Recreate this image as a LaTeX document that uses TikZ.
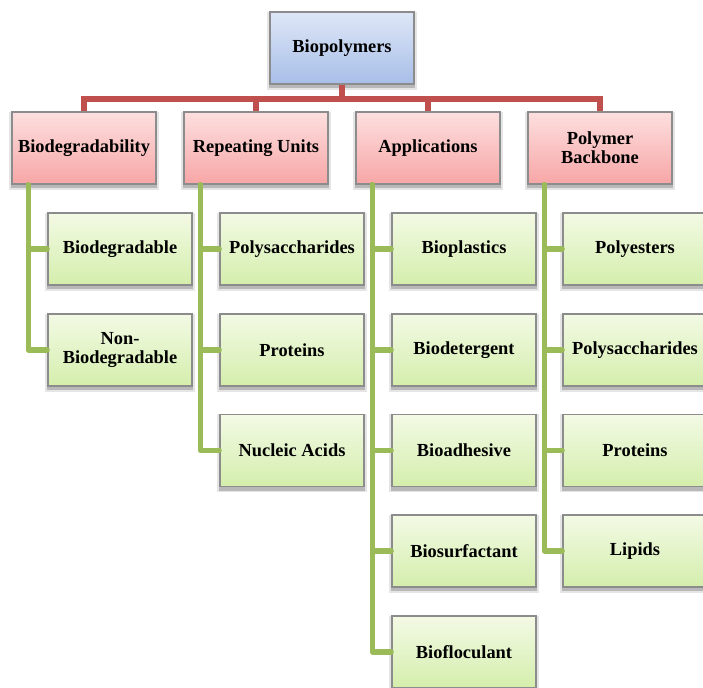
\documentclass[tikz,border=0pt]{standalone}
\usepackage{fontspec}
\setmainfont{Liberation Serif}

\definecolor{rootTop}{RGB}{222,231,247}
\definecolor{rootBot}{RGB}{168,190,232}
\definecolor{catTop}{RGB}{253,223,223}
\definecolor{catBot}{RGB}{247,166,166}
\definecolor{leafTop}{RGB}{243,250,229}
\definecolor{leafBot}{RGB}{212,238,172}
\definecolor{boxEdge}{RGB}{140,140,140}
\definecolor{redLine}{RGB}{192,80,77}
\definecolor{greenLine}{RGB}{155,187,89}

\tikzset{every picture/.style={line width=0.75pt}}
\tikzset{
  box/.style={draw=boxEdge, line width=1.1pt, minimum width=108pt, minimum height=54pt,
    inner sep=2pt, align=center, font=\fontsize{13.8}{14.5}\selectfont\bfseries,
    preaction={draw=black!10, fill=black!10, line width=4.5pt, transform canvas={yshift=-2pt}},
    preaction={draw=black!28, fill=black!28, line width=2pt, transform canvas={yshift=-2pt}}},
  rootbox/.style={box, top color=rootTop, bottom color=rootBot},
  catbox/.style={box, top color=catTop, bottom color=catBot},
  leafbox/.style={box, top color=leafTop, bottom color=leafBot},
  redlink/.style={draw=redLine, line width=3.8pt},
  greenlink/.style={draw=greenLine, line width=3.8pt, line join=round, line cap=round}
}

\begin{document}
\begin{tikzpicture}[x=0.75pt,y=0.75pt,yscale=-1,xscale=1]
\useasboundingbox (0,0) rectangle (703,688);
\clip (0,0) rectangle (703,688);

% Root
\node [rootbox] (root) at (342,48) {Biopolymers};
\coordinate (hub) at (342,99);

% Categories
\node [catbox] (degr) at (84,148) {Biodegradability};
\node [catbox] (unit) at (256,148) {Repeating Units};
\node [catbox] (appl) at (428,148) {Applications};
\node [catbox] (back) at (600,148) {Polymer\\Backbone};

% Biodegradability
\node [leafbox] (degrA) at (120,249) {Biodegradable};
\node [leafbox] (degrB) at (120,350) {Non-\\Biodegradable};

% Repeating Units
\node [leafbox] (unitA) at (292,249) {Polysaccharides};
\node [leafbox] (unitB) at (292,350) {Proteins};
\node [leafbox] (unitC) at (292,450.5) {Nucleic Acids};

% Applications
\node [leafbox] (applA) at (464,249) {Bioplastics};
\node [leafbox] (applB) at (464,350) {Biodetergent};
\node [leafbox] (applC) at (464,450.5) {Bioadhesive};
\node [leafbox] (applD) at (464,551) {Biosurfactant};
\node [leafbox] (applE) at (464,652) {Biofloculant};

% Polymer Backbone
\node [leafbox] (backA) at (635,249) {Polyesters};
\node [leafbox] (backB) at (635,350) {Polysaccharides};
\node [leafbox] (backC) at (635,450.5) {Proteins};
\node [leafbox] (backD) at (635,551) {Lipids};

%Straight Lines
\draw [redlink] (root.south) -- (hub);
\foreach \c in {degr,unit,appl,back}
  \draw [redlink] (hub) -| (\c.north);
\foreach \c in {degrA,degrB}
  \draw [greenlink] (degr.south west) ++(17,0) |- (\c.west);
\foreach \c in {unitA,unitB,unitC}
  \draw [greenlink] (unit.south west) ++(17,0) |- (\c.west);
\foreach \c in {applA,applB,applC,applD,applE}
  \draw [greenlink] (appl.south west) ++(17,0) |- (\c.west);
\foreach \c in {backA,backB,backC,backD}
  \draw [greenlink] (back.south west) ++(17,0) |- (\c.west);

\end{tikzpicture}
\end{document}
